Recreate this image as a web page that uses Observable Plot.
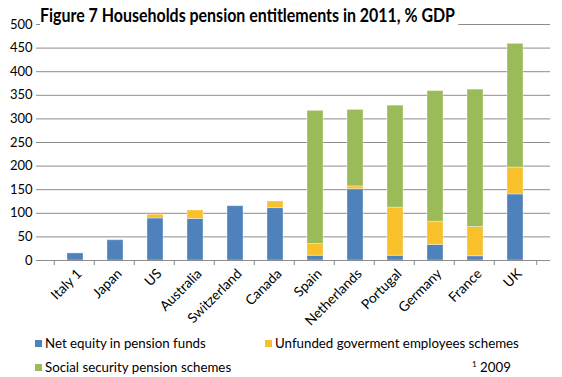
<!DOCTYPE html>
<html><head><meta charset="utf-8">
<script src="https://cdn.jsdelivr.net/npm/d3@7"></script>
<script src="https://cdn.jsdelivr.net/npm/@observablehq/plot@0.6"></script>
<style>
body{margin:0;background:#fff;font-family:Lato,"Open Sans",sans-serif;}
#wrap{position:relative;width:562px;height:377px;overflow:hidden;}
#title{position:absolute;left:40px;top:4px;font-weight:bold;font-size:18px;color:#000;white-space:nowrap;background:#fff;padding-right:4px;transform-origin:0 0;}
.leg{position:absolute;font-size:13.3px;color:#000;white-space:nowrap;}
.sw{display:inline-block;width:7px;height:7px;margin-right:3px;vertical-align:1px;}
</style></head>
<body><div id="wrap"></div>
<script>
const countries = ["Italy 1","Japan","US","Australia","Switzerland","Canada","Spain","Netherlands","Portugal","Germany","France","UK"];
const series = ["Net equity in pension funds","Unfunded goverment employees schemes","Social security pension schemes"];
const netEquity = [15,43,89,88,115,111,10,151,10,33,9,140];
const unfunded  = [0,0,8,18,0,14,25,6,102,49,62,57];
const socialSec = [0,0,0,0,0,0,282,162,216,277,291,262];
const colors = ["#4F81BD","#F8C12C","#9BBB59"];
const yTicks = [0,50,100,150,200,250,300,350,400,450,500];

const vals = [netEquity, unfunded, socialSec];
const rows = [];
series.forEach((s,i)=>countries.forEach((c,j)=>{ if (vals[i][j] > 0) rows.push({country:c, series:s, value:vals[i][j]}); }));

const half = (550-41)/countries.length/2;
const chart = Plot.plot({
  width:562, height:377,
  marginTop:24, marginBottom:117, marginLeft:40, marginRight:12,
  style:{fontFamily:"Lato, 'Open Sans', sans-serif", fontSize:"12px", color:"#000", background:"#fff"},
  x:{domain:countries, padding:0.59, label:null},
  y:{domain:[0,500], label:null},
  color:{domain:series, range:colors},
  marks:[
    Plot.gridY(yTicks, {stroke:"#8C8C8C", strokeOpacity:1, strokeWidth:1}),
    Plot.barY(rows, Plot.stackY({x:"country", y:"value", fill:"series", order:series, stroke:"#ffffff", strokeOpacity:0.35, strokeWidth:1})),
    Plot.axisY(yTicks, {tickSize:4, tickPadding:4, stroke:"#8C8C8C", fill:"#000", fontSize:13}),
    Plot.ruleX([0], {frameAnchor:"left", stroke:"#8C8C8C"}),
    Plot.ruleY([0], {stroke:"#8C8C8C"}),
    Plot.axisX({tickSize:5, text:null, dx:-half, stroke:"#8C8C8C"}),
    Plot.axisX([countries[countries.length-1]], {tickSize:5, text:null, dx:half, stroke:"#8C8C8C"}),
    Plot.axisX({tickSize:0, tickRotate:-45, tickPadding:11, fontSize:13.7, fill:"#000", dx:4})
  ]
});
const wrap = document.getElementById("wrap");
wrap.appendChild(chart);
const t = document.createElement("div"); t.id="title";
t.textContent = "Figure 7 Households pension entitlements in 2011, % GDP";
wrap.appendChild(t);
const tw = t.getBoundingClientRect().width - 4;
t.style.transform = `scaleX(${415/tw})`;
const legPos = [[35,335],[265,335],[35,359]];
series.forEach((s,i)=>{
  const d = document.createElement("div"); d.className="leg";
  d.style.left = legPos[i][0]+"px"; d.style.top = legPos[i][1]+"px";
  d.innerHTML = `<span class="sw" style="background:${colors[i]}"></span>`;
  d.appendChild(document.createTextNode(s));
  wrap.appendChild(d);
});
const f = document.createElement("div"); f.className="leg";
f.style.left="472px"; f.style.top="359px";
f.innerHTML = "<sup style='font-size:8px'>1</sup> 2009";
wrap.appendChild(f);
</script></body></html>
